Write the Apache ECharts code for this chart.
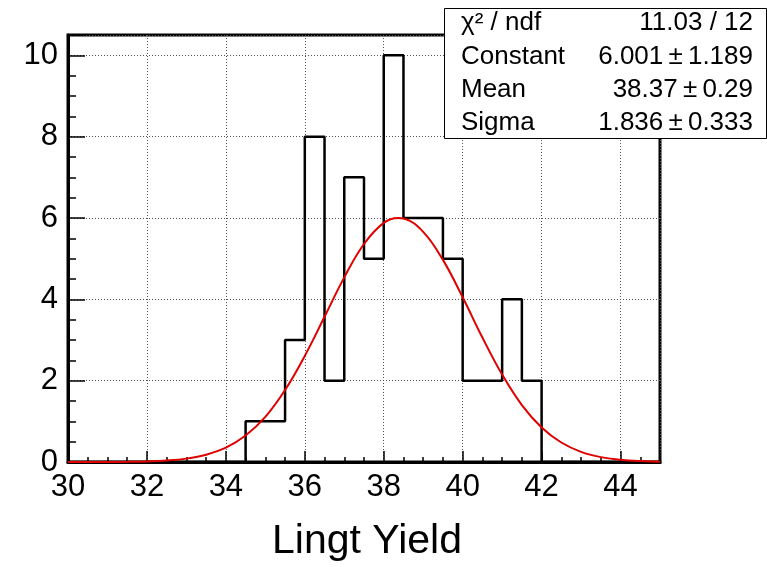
<!DOCTYPE html>
<html>
<head>
<meta charset="utf-8">
<script src="https://cdn.jsdelivr.net/npm/echarts@6/dist/echarts.min.js"></script>
<style>html,body{margin:0;padding:0;background:#fff}#c{width:767px;height:567px}</style>
</head>
<body>
<div id="c"></div>
<script>
// Histogram: bin lower edges (width 0.5) and counts
var binLow = [30,30.5,31,31.5,32,32.5,33,33.5,34,34.5,35,35.5,36,36.5,37,37.5,38,38.5,39,39.5,40,40.5,41,41.5,42,42.5,43,43.5,44,44.5];
var counts = [0,0,0,0,0,0,0,0,0,1,1,3,8,2,7,5,10,6,6,5,2,2,4,2,0,0,0,0,0,0];
var binWidth = 0.5;
// Fit curve points
var fitX = [30,30.5,31,31.5,32,32.5,33,33.5,34,34.5,35,35.5,36,36.5,37,37.5,38,38.37,38.5,39,39.5,40,40.5,41,41.5,42,42.5,43,43.5,44,44.5,45];
var fitY = [0,0,0.002,0.005,0.015,0.036,0.083,0.18,0.353,0.65,1.11,1.77,2.61,3.57,4.54,5.36,5.88,6.0,5.99,5.66,4.97,4.05,3.06,2.15,1.40,0.85,0.48,0.25,0.12,0.055,0.023,0.009];
// Stats box
var statNames = ['\u03c7\u00b2 / ndf','Constant','Mean','Sigma'];
var statValues = ['11.03 / 12','6.001\u2009\u00b1\u20091.189','38.37\u2009\u00b1\u20090.29','1.836\u2009\u00b1\u20090.333'];
var xTitle = 'Lingt Yield';

var histPts = [];
for (var i = 0; i < binLow.length; i++) histPts.push([binLow[i], counts[i]]);
histPts.push([binLow[binLow.length-1] + binWidth, 0]);
var fitPts = fitX.map(function(x, i){ return [x, fitY[i]]; });

var FONT = '"Liberation Sans", Arial, Helvetica, sans-serif';
var chart = echarts.init(document.getElementById('c'), null, {renderer:'canvas'});

var graphics = [
  {type:'rect', left:444, top:8, shape:{width:322, height:130}, style:{fill:'#fff', stroke:'#000', lineWidth:1}, z:100}
];
var rowY = [23, 57, 90, 123];
for (var r = 0; r < statNames.length; r++) {
  graphics.push({type:'text', left:461, top:rowY[r]-13, z:101, style:{text:statNames[r], font:'26px ' + FONT, fill:'#000'}});
  graphics.push({type:'text', right:14, top:rowY[r]-13, z:101, style:{text:statValues[r], font:'26px ' + FONT, fill:'#000', textAlign:'right'}});
}

chart.setOption({
  animation:false,
  backgroundColor:'#fff',
  grid:{left:68, top:35, right:107, bottom:104, show:true, borderColor:'#000', borderWidth:3, backgroundColor:'transparent'},
  xAxis:{
    type:'value', min:30, max:45, interval:2,
    name:xTitle, nameLocation:'middle', nameGap:59,
    nameTextStyle:{fontSize:41, fontFamily:FONT, color:'#000', padding:[0,0,0,6]},
    axisLine:{show:true, lineStyle:{color:'#000', width:3}},
    axisTick:{show:true, inside:true, length:11, lineStyle:{color:'#000', width:1.5}},
    minorTick:{show:true, splitNumber:4, length:5, lineStyle:{color:'#000', width:1.5}},
    axisLabel:{fontSize:31, fontFamily:FONT, color:'#000', margin:10, showMaxLabel:false},
    splitLine:{show:true, lineStyle:{color:'#555', type:[1,2], width:1}}
  },
  yAxis:{
    type:'value', min:0, max:10.5, interval:2,
    axisLine:{show:true, lineStyle:{color:'#000', width:3}},
    axisTick:{show:true, inside:true, length:17, lineStyle:{color:'#000', width:1.5}},
    minorTick:{show:true, splitNumber:4, length:8, lineStyle:{color:'#000', width:1.5}},
    axisLabel:{fontSize:31, fontFamily:FONT, color:'#000', margin:10, showMaxLabel:false},
    splitLine:{show:true, lineStyle:{color:'#555', type:[1,2], width:1}}
  },
  series:[
    {type:'line', data:histPts, step:'end', showSymbol:false, symbol:'none',
     lineStyle:{color:'#000', width:2.5}, z:3, clip:true},
    {type:'line', data:fitPts, smooth:0.4, showSymbol:false, symbol:'none',
     lineStyle:{color:'#e00000', width:2}, z:4}
  ],
  graphic:graphics
});
</script>
</body>
</html>
